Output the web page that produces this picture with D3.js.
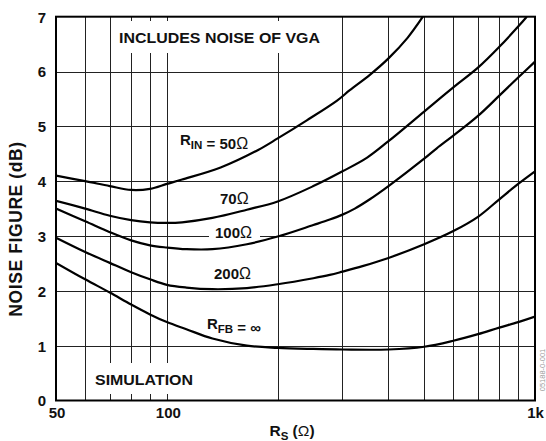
<!DOCTYPE html>
<html>
<head>
<meta charset="utf-8">
<script src="https://cdn.jsdelivr.net/npm/d3@7/dist/d3.min.js"></script>
<style>
  html, body { margin: 0; padding: 0; background: #fff; }
  svg text { font-family: "Liberation Sans", Arial, Helvetica, sans-serif; font-weight: bold; fill: #111; }
  svg tspan.sym { font-weight: normal; }
</style>
</head>
<body>
<svg id="chart" width="546" height="441"></svg>
<script>
// Source resistance (ohms) and noise figure (dB) for each input configuration
const rsRin50 = [50, 60, 70, 80, 90, 100, 110, 140, 177, 200, 240, 290, 314, 356, 400, 450, 496];
const nfRin50 = [4.10, 4.00, 3.91, 3.84, 3.86, 3.95, 4.03, 4.25, 4.57, 4.78, 5.11, 5.47, 5.66, 5.94, 6.24, 6.61, 7.00];

const rsRin70 = [50, 60, 70, 80, 90, 100, 110, 133, 165, 200, 250, 300, 350, 400, 500, 600, 700, 800, 900, 950];
const nfRin70 = [3.64, 3.50, 3.37, 3.29, 3.25, 3.24, 3.25, 3.33, 3.48, 3.63, 3.91, 4.18, 4.43, 4.73, 5.27, 5.71, 6.07, 6.45, 6.82, 7.00];

const rsRin100 = [50, 60, 70, 80, 90, 100, 113, 133, 165, 200, 250, 277, 300, 324, 356, 400, 500, 541, 600, 700, 800, 900, 1000];
const nfRin100 = [3.50, 3.27, 3.07, 2.92, 2.83, 2.79, 2.76, 2.76, 2.85, 2.99, 3.20, 3.30, 3.39, 3.50, 3.67, 3.91, 4.41, 4.60, 4.83, 5.19, 5.56, 5.89, 6.18];

const rsRin200 = [50, 60, 70, 80, 90, 100, 113, 133, 165, 200, 250, 277, 300, 340, 400, 500, 600, 700, 800, 900, 1000];
const nfRin200 = [2.97, 2.71, 2.51, 2.34, 2.21, 2.11, 2.06, 2.03, 2.05, 2.12, 2.23, 2.29, 2.35, 2.45, 2.60, 2.85, 3.09, 3.35, 3.67, 3.95, 4.18];

const rsRfbInf = [50, 60, 70, 80, 90, 100, 113, 133, 165, 200, 250, 300, 400, 500, 600, 700, 800, 900, 1000];
const nfRfbInf = [2.51, 2.21, 1.97, 1.75, 1.57, 1.43, 1.30, 1.13, 1.00, 0.96, 0.94, 0.93, 0.93, 0.98, 1.09, 1.21, 1.33, 1.43, 1.53];

// Axis ticks and grid
const xTickValues = [50, 100, 1000];
const xTickLabels = ["50", "100", "1k"];
const yTickValues = [0, 1, 2, 3, 4, 5, 6, 7];
const xGridValues = [60, 70, 80, 90, 100, 200, 300, 400, 500, 600, 700, 800, 900];
const yGridValues = [1, 2, 3, 4, 5, 6];

const svg = d3.select("#chart");
const plotLeft = 56, plotRight = 535, plotTop = 16.7, plotBottom = 400.5;

const x = d3.scaleLog().domain([50, 1000]).range([plotLeft, plotRight]);
const y = d3.scaleLinear().domain([0, 7]).range([plotBottom, plotTop]);

svg.append("rect").attr("width", 546).attr("height", 441).attr("fill", "#fff");

// grid
const grid = svg.append("g").attr("stroke", "#222").attr("stroke-width", 1);
grid.selectAll("line.v").data(xGridValues).join("line")
  .attr("x1", d => Math.round(x(d)) + 0.5).attr("x2", d => Math.round(x(d)) + 0.5)
  .attr("y1", plotTop).attr("y2", plotBottom);
grid.selectAll("line.h").data(yGridValues).join("line")
  .attr("x1", plotLeft).attr("x2", plotRight)
  .attr("y1", d => Math.round(y(d)) + 0.5).attr("y2", d => Math.round(y(d)) + 0.5);

// white panels behind the annotations
const panels = svg.append("g").attr("fill", "#fff");
panels.append("rect").attr("x", 112).attr("y", 21).attr("width", 216).attr("height", 32);
panels.append("rect").attr("x", 89).attr("y", 363).attr("width", 110).attr("height", 31);
panels.append("rect").attr("x", 209).attr("y", 227).attr("width", 51).attr("height", 15);

// curves
const series = [
  [rsRin50, nfRin50], [rsRin70, nfRin70], [rsRin100, nfRin100],
  [rsRin200, nfRin200], [rsRfbInf, nfRfbInf]
];
svg.append("clipPath").attr("id", "plotClip")
  .append("rect").attr("x", plotLeft).attr("y", plotTop)
  .attr("width", plotRight - plotLeft).attr("height", plotBottom - plotTop);
const line = d3.line().x(d => x(d[0])).y(d => y(d[1])).curve(d3.curveCatmullRom.alpha(0.5));
svg.append("g").attr("clip-path", "url(#plotClip)")
  .selectAll("path").data(series).join("path")
  .attr("d", s => line(s[0].map((r, i) => [r, s[1][i]])))
  .attr("fill", "none").attr("stroke", "#000").attr("stroke-width", 2.2)
  .attr("stroke-linejoin", "round");

// frame
svg.append("rect").attr("x", plotLeft).attr("y", plotTop)
  .attr("width", plotRight - plotLeft).attr("height", plotBottom - plotTop)
  .attr("fill", "none").attr("stroke", "#000").attr("stroke-width", 2);

// axes (labels only)
const yAxis = d3.axisLeft(y).tickValues(yTickValues).tickSize(0).tickPadding(0).tickFormat(d3.format("d"));
const gy = svg.append("g").attr("transform", `translate(${plotLeft - 10},0)`).call(yAxis);
gy.select(".domain").remove();
gy.selectAll("text").attr("font-size", 15).attr("font-family", null).attr("dy", "0.36em");

const xAxis = d3.axisBottom(x).tickValues(xTickValues).tickSize(0).tickPadding(0)
  .tickFormat((d, i) => xTickLabels[i]);
const gx = svg.append("g").attr("transform", `translate(0,${plotBottom + 7})`).call(xAxis);
gx.select(".domain").remove();
gx.selectAll("text").attr("font-size", 15).attr("font-family", null).attr("dy", "0.72em");
gx.selectAll(".tick").filter(d => d === 50).attr("transform", `translate(${x(50) + 1},0)`);
gx.selectAll(".tick").filter(d => d === 100).attr("transform", `translate(${x(100) + 1.5},0)`);

// axis titles
const xt = svg.append("text").attr("x", 292).attr("y", 436).attr("text-anchor", "middle").attr("font-size", 15.5);
xt.append("tspan").text("R");
xt.append("tspan").attr("font-size", 11.5).attr("dy", 4).text("S");
xt.append("tspan").attr("dy", -4).text(" (");
xt.append("tspan").attr("class", "sym").text("Ω");
xt.append("tspan").text(")");

svg.append("text").attr("transform", "translate(22,229) rotate(-90)")
  .attr("text-anchor", "middle").attr("font-size", 17.5).attr("letter-spacing", 0.6)
  .text("NOISE FIGURE (dB)");

// annotations
svg.append("text").attr("x", 119).attr("y", 42.5).attr("font-size", 15.5)
  .attr("textLength", 201).attr("lengthAdjust", "spacingAndGlyphs").text("INCLUDES NOISE OF VGA");
svg.append("text").attr("x", 95).attr("y", 385).attr("font-size", 15.5)
  .attr("textLength", 98).attr("lengthAdjust", "spacingAndGlyphs").text("SIMULATION");

function curveLabel(px, py, main, sub, rest) {
  const t = svg.append("text").attr("x", px).attr("y", py).attr("font-size", 15);
  const addText = (sel, s) => {
    // the ohm sign is set in a lighter symbol weight
    const parts = s.split("Ω");
    parts.forEach((p, i) => {
      if (p) sel.append("tspan").text(p);
      if (i < parts.length - 1) sel.append("tspan").attr("class", "sym").attr("font-size", 16).text("Ω");
    });
  };
  if (sub) {
    t.append("tspan").text(main);
    t.append("tspan").attr("font-size", 11.5).attr("dy", 4).text(sub);
    t.append("tspan").attr("dy", -4).text("");
    addText(t, rest);
  } else {
    addText(t, main);
  }
}
curveLabel(180, 145, "R", "IN", " = 50Ω");
curveLabel(220, 204, "70Ω");
curveLabel(215, 237.5, "100Ω");
curveLabel(214, 279, "200Ω");
curveLabel(207, 329, "R", "FB", " = ∞");

// figure number
svg.append("text").attr("transform", "translate(545,370) rotate(-90)")
  .attr("text-anchor", "middle").attr("font-size", 7.5)
  .style("fill", "#999").style("font-weight", "normal").text("05188-0-001");
</script>
</body>
</html>
